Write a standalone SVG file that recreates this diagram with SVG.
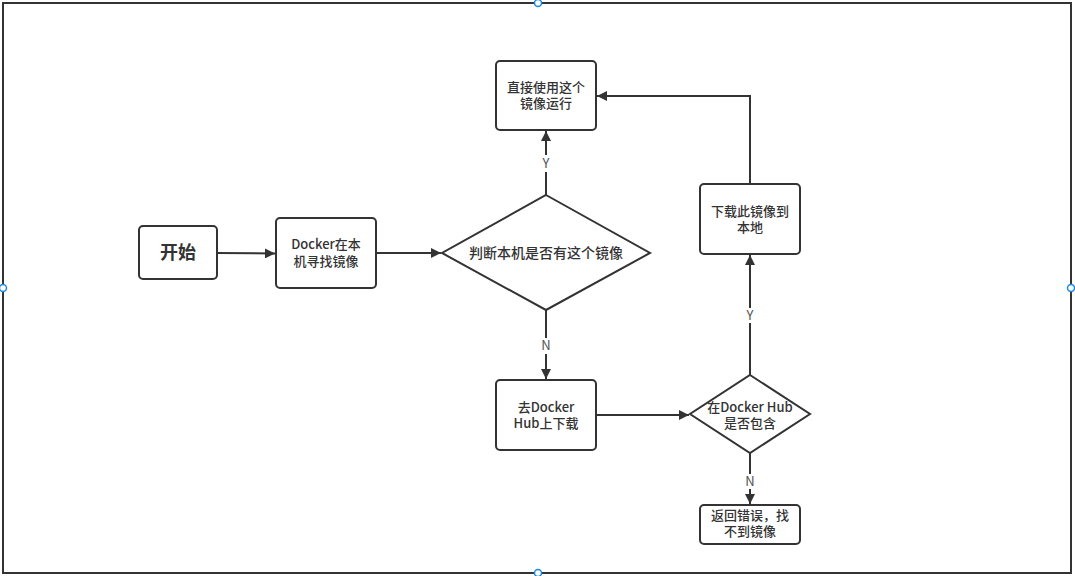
<svg xmlns="http://www.w3.org/2000/svg" width="1075" height="576" viewBox="0 0 1075 576">
<style>
.box{fill:#fff;stroke:#333;stroke-width:2}
.t{font-family:"Noto Sans CJK SC","Noto Sans",sans-serif;font-size:13px;fill:#333;text-anchor:middle;font-weight:500}
.big{font-size:18px;font-weight:700}
.ln{fill:none;stroke:#333;stroke-width:2}
.lbl{font-family:"Noto Sans CJK SC","Noto Sans",sans-serif;font-size:13px;fill:#555;text-anchor:middle}
.h{fill:#fff;stroke:#1e88e5;stroke-width:1.5}
</style>
<defs>
<marker id="ar" viewBox="0 0 10 10" refX="10" refY="5" markerWidth="5.5" markerHeight="5" markerUnits="strokeWidth" orient="auto">
<path d="M0,0 L10,5 L0,10 z" fill="#333"/>
</marker>
</defs>
<rect width="1075" height="576" fill="#fff"/>
<rect x="3" y="3" width="1068" height="570" fill="none" stroke="#333" stroke-width="2"/>
<circle class="h" cx="538" cy="3" r="3.5"/>
<circle class="h" cx="538" cy="573" r="3.5"/>
<circle class="h" cx="3" cy="288" r="3.5"/>
<circle class="h" cx="1071" cy="288" r="3.5"/>
<g id="connectors">
<path class="ln" d="M217,253 L275,253.5" marker-end="url(#ar)"/>
<path class="ln" d="M376,253 L441,253" marker-end="url(#ar)"/>
<path class="ln" d="M546,195 L546,172 M546,155 L546,131" marker-end="url(#ar)"/>
<text class="lbl" x="546" y="168">Y</text>
<path class="ln" d="M546,310 L546,338 M546,354 L546,379" marker-end="url(#ar)"/>
<text class="lbl" x="546" y="350">N</text>
<path class="ln" d="M596,415 L689,415" marker-end="url(#ar)"/>
<path class="ln" d="M750,375 L750,323 M750,308 L750,255" marker-end="url(#ar)"/>
<text class="lbl" x="750" y="320">Y</text>
<path class="ln" d="M750,184 L750,96 L597,96" marker-end="url(#ar)"/>
<path class="ln" d="M750,453 L750,474 M750,489 L750,504" marker-end="url(#ar)"/>
<text class="lbl" x="750" y="486">N</text>
</g>
<g id="start">
<rect class="box" x="139" y="226" width="78" height="53" rx="4"/>
<text class="t big" x="178" y="259">开始</text>
</g>
<g id="find">
<rect class="box" x="276" y="218" width="100" height="70" rx="4"/>
<text class="t" x="326" y="249">Docker在本</text>
<text class="t" x="326" y="266">机寻找镜像</text>
</g>
<g id="check">
<path class="box" d="M546,195 L650,253 L546,310 L442,253 Z"/>
<text class="t" x="546" y="258" style="font-size:14px">判断本机是否有这个镜像</text>
</g>
<g id="use">
<rect class="box" x="496" y="61" width="100" height="69" rx="4"/>
<text class="t" x="546" y="92">直接使用这个</text>
<text class="t" x="546" y="108">镜像运行</text>
</g>
<g id="hub">
<rect class="box" x="496" y="380" width="100" height="70" rx="4"/>
<text class="t" x="546" y="412">去Docker</text>
<text class="t" x="546" y="428">Hub上下载</text>
</g>
<g id="contains">
<path class="box" d="M750,375 L810,414 L750,453 L690,414 Z"/>
<text class="t" x="750" y="412">在Docker Hub</text>
<text class="t" x="750" y="428">是否包含</text>
</g>
<g id="download">
<rect class="box" x="700" y="184" width="100" height="70" rx="4"/>
<text class="t" x="750" y="216">下载此镜像到</text>
<text class="t" x="750" y="232">本地</text>
</g>
<g id="error">
<rect class="box" x="700" y="505" width="100" height="39" rx="4"/>
<text class="t" x="750" y="520">返回错误，找</text>
<text class="t" x="750" y="536">不到镜像</text>
</g>
</svg>
